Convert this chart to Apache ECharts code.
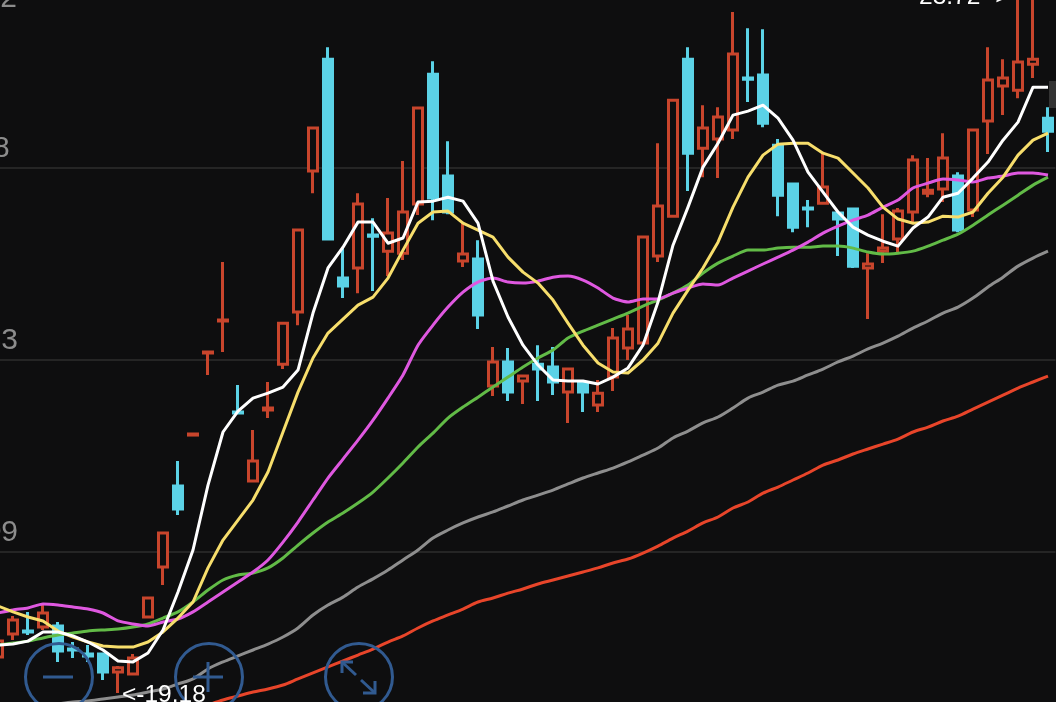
<!DOCTYPE html>
<html>
<head>
<meta charset="utf-8">
<style>
html, body { margin: 0; padding: 0; background: #0e0e0f; overflow: hidden; }
#chart { width: 1056px; height: 702px; }
</style>
<script src="https://cdn.jsdelivr.net/npm/echarts@6/dist/echarts.min.js"></script>
</head>
<body>
<div id="chart"></div>
<script>
// 日K 开盘 收盘 最低 最高
const opens = [19.409,19.560,19.579,19.605,19.612,19.461,19.429,19.429,19.311,19.298,19.671,19.998,20.528,20.861,21.397,21.607,21.012,20.560,21.025,21.325,21.666,22.588,23.320,21.888,21.954,22.169,22.064,22.051,22.372,23.222,22.555,21.999,22.012,21.182,21.339,21.214,21.325,21.306,21.142,21.201,21.057,21.240,21.430,21.463,22.032,22.293,23.320,22.738,22.797,22.856,23.196,23.216,22.757,22.503,22.346,22.378,22.313,22.339,21.954,22.064,22.143,22.320,22.443,22.470,22.555,22.333,22.915,23.144,23.117,23.287,22.934];
const closes = [19.513,19.651,19.573,19.697,19.448,19.455,19.416,19.311,19.338,19.403,19.795,20.220,20.377,20.868,21.404,21.613,21.005,20.691,21.038,21.593,22.202,22.869,22.143,21.836,22.372,22.162,22.182,22.320,23.000,22.411,22.320,22.045,21.646,21.339,21.142,21.247,21.293,21.208,21.293,21.142,21.135,21.496,21.554,22.156,22.359,23.052,22.705,22.869,22.941,23.353,23.189,22.901,22.430,22.221,22.339,22.483,22.274,21.966,21.980,22.084,22.326,22.660,22.463,22.673,22.202,22.856,23.183,23.196,23.301,23.320,22.849];
const lows = [19.390,19.520,19.553,19.586,19.377,19.403,19.377,19.259,19.173,19.292,19.671,19.880,20.338,20.861,21.254,21.404,20.998,20.560,20.972,21.293,21.580,22.443,22.143,21.757,21.789,21.803,21.901,22.006,22.300,22.267,22.306,21.960,21.554,21.116,21.084,21.064,21.084,21.123,20.940,21.012,21.012,21.149,21.352,21.463,21.993,22.293,22.457,22.548,22.542,22.797,23.039,22.875,22.293,22.188,22.221,22.372,22.032,21.954,21.620,21.986,22.058,22.247,22.417,22.385,22.188,22.287,22.699,22.954,23.065,23.196,22.712];
const highs = [19.547,19.677,19.704,19.749,19.638,19.507,19.487,19.435,19.351,19.429,19.795,20.220,20.691,20.868,21.404,21.993,21.188,20.894,21.208,21.593,22.202,22.869,23.398,22.084,22.443,22.280,22.411,22.653,23.000,23.307,22.783,22.254,22.136,21.437,21.430,21.254,21.449,21.437,21.293,21.214,21.221,21.561,21.646,22.156,22.770,23.052,23.398,23.019,23.006,23.628,23.523,23.516,22.797,22.503,22.398,22.705,22.313,22.346,22.051,22.306,22.346,22.692,22.673,22.836,22.581,22.856,23.398,23.320,23.720,23.710,23.006];

const ma5 = [19.487,19.494,19.513,19.573,19.573,19.547,19.507,19.455,19.383,19.377,19.435,19.586,19.834,20.109,20.534,20.881,21.018,21.103,21.135,21.175,21.286,21.659,21.954,22.090,22.254,22.254,22.116,22.150,22.385,22.391,22.417,22.391,22.247,21.868,21.633,21.449,21.319,21.221,21.214,21.214,21.195,21.240,21.300,21.449,21.731,22.103,22.352,22.614,22.770,22.954,22.980,23.019,22.934,22.790,22.581,22.450,22.320,22.221,22.169,22.129,22.097,22.215,22.287,22.417,22.443,22.542,22.647,22.790,22.908,23.137,23.137];
const ma10 = [19.743,19.704,19.671,19.645,19.579,19.540,19.507,19.481,19.474,19.474,19.507,19.573,19.664,19.769,19.992,20.174,20.305,20.436,20.619,20.881,21.142,21.365,21.528,21.620,21.711,21.763,21.888,22.071,22.247,22.320,22.326,22.247,22.202,22.156,22.025,21.927,21.855,21.744,21.593,21.449,21.332,21.273,21.267,21.352,21.462,21.659,21.809,21.954,22.123,22.352,22.548,22.692,22.764,22.770,22.770,22.705,22.673,22.575,22.477,22.352,22.274,22.247,22.254,22.293,22.287,22.320,22.443,22.548,22.692,22.790,22.836];
const ma20 = [19.697,19.717,19.730,19.756,19.749,19.736,19.723,19.697,19.645,19.625,19.612,19.638,19.658,19.704,19.769,19.834,19.900,19.965,20.044,20.161,20.292,20.436,20.580,20.704,20.828,20.959,21.103,21.254,21.449,21.580,21.698,21.796,21.862,21.888,21.862,21.855,21.868,21.894,21.901,21.875,21.823,21.757,21.731,21.751,21.751,21.789,21.823,21.849,21.842,21.888,21.934,21.980,22.025,22.071,22.123,22.182,22.228,22.267,22.300,22.352,22.398,22.477,22.509,22.536,22.529,22.516,22.542,22.555,22.575,22.575,22.562];
const ma30 = [19.487,19.500,19.513,19.534,19.553,19.566,19.579,19.586,19.592,19.605,19.625,19.664,19.704,19.769,19.847,19.913,19.946,19.959,19.992,20.057,20.141,20.220,20.292,20.351,20.416,20.488,20.580,20.678,20.783,20.874,20.972,21.044,21.109,21.175,21.240,21.306,21.365,21.417,21.496,21.541,21.580,21.620,21.659,21.705,21.744,21.789,21.842,21.921,21.986,22.032,22.071,22.071,22.084,22.090,22.090,22.097,22.097,22.084,22.058,22.045,22.051,22.064,22.097,22.136,22.175,22.234,22.300,22.365,22.430,22.496,22.548];
const ma60 = [null,null,null,null,19.102,19.115,19.122,19.135,19.147,19.160,19.180,19.200,19.233,19.266,19.331,19.377,19.416,19.455,19.494,19.540,19.599,19.684,19.749,19.801,19.867,19.920,19.978,20.044,20.109,20.187,20.240,20.286,20.325,20.358,20.397,20.436,20.468,20.501,20.541,20.580,20.613,20.645,20.685,20.730,20.776,20.842,20.887,20.940,20.979,21.038,21.103,21.142,21.188,21.214,21.254,21.293,21.339,21.378,21.424,21.463,21.508,21.561,21.607,21.659,21.698,21.757,21.829,21.894,21.966,22.019,22.064];
const ma120 = [null,null,null,null,null,null,null,null,null,null,null,null,null,null,19.095,19.128,19.154,19.180,19.200,19.226,19.266,19.305,19.344,19.383,19.422,19.461,19.507,19.547,19.599,19.645,19.684,19.723,19.769,19.795,19.827,19.854,19.887,19.913,19.939,19.965,19.992,20.024,20.050,20.089,20.135,20.187,20.233,20.286,20.325,20.384,20.423,20.481,20.521,20.567,20.613,20.665,20.698,20.737,20.770,20.802,20.835,20.881,20.913,20.953,20.985,21.031,21.077,21.122,21.168,21.208,21.247];

const tickLabels = ["", "20.09", "21.33", "22.58 "];
const topTickLabel = "23.82";
const lowLabel = "<-19.18";
const highLabel = "23.72 ->";

const bg = "#0e0e0f";
const red = "#c8452c";
const cyan = "#5bd2e6";
const btn = "#315a90";

const categories = opens.map((v, i) => i + 1);
const candles = opens.map((v, i) => [v, closes[i], lows[i], highs[i]]);

function maLine(name, data, color, smooth) {
  return {
    name: name,
    type: "line",
    data: data,
    symbol: "none",
    smooth: smooth,
    silent: true,
    z: 3,
    lineStyle: { color: color, width: 3, join: "round" },
  };
}

const stroke = { stroke: btn, lineWidth: 3, fill: "none" };
function seg(points) {
  return { type: "polyline", shape: { points: points }, style: stroke, silent: true, z: 20 };
}
function ring(cx) {
  return { type: "circle", shape: { cx: cx, cy: 677, r: 33.5 }, style: stroke, silent: true, z: 20 };
}

const option = {
  backgroundColor: bg,
  animation: false,
  grid: { left: -9.5, right: 0.5, top: -24, bottom: -42, containLabel: false, outerBoundsMode: "none" },
  xAxis: {
    type: "category",
    data: categories,
    boundaryGap: true,
    show: false,
  },
  yAxis: {
    type: "value",
    min: 18.84,
    max: 23.864,
    interval: 1.256,
    axisLine: { show: false },
    axisTick: { show: false },
    splitLine: { show: true, lineStyle: { color: "#252525", width: 2 } },
    axisLabel: {
      show: true,
      color: "#8c8c8c",
      fontSize: 30,
      fontFamily: "Liberation Sans",
      align: "right",
      verticalAlign: "bottom",
      margin: -27.5,
      padding: [0, 0, 4, 0],
      formatter: function (value, index) {
        return tickLabels[index] || "";
      },
    },
  },
  series: [
    {
      name: "K",
      type: "candlestick",
      data: candles,
      barWidth: 9,
      silent: true,
      z: 2,
      itemStyle: {
        color: bg,
        color0: cyan,
        borderColor: red,
        borderColor0: cyan,
        borderWidth: 3,
      },
    },
    maLine("MA120", ma120, "#e8452a", 0.3),
    maLine("MA60", ma60, "#8e8e8e", 0.3),
    maLine("MA30", ma30, "#62bb47", 0.2),
    maLine("MA20", ma20, "#df58e0", 0.2),
    maLine("MA10", ma10, "#f7de6c", false),
    maLine("MA5", ma5, "#ffffff", false),
  ],
  graphic: [
    // 缩小 放大 全屏 三个按钮
    ring(59),
    seg([[43, 677], [73, 677]]),
    ring(209),
    seg([[193, 677], [223, 677]]),
    seg([[208, 662], [208, 692]]),
    ring(359),
    seg([[342, 673], [342, 662], [353, 662]]),
    seg([[342, 662], [356, 675]]),
    seg([[363, 693], [375, 693], [375, 681]]),
    seg([[375, 693], [361, 680]]),
    // 最新价标记
    { type: "rect", shape: { x: 1049, y: 81, width: 7, height: 27 }, style: { fill: "#333333" }, silent: true, z: 20 },
    // 最低 最高
    {
      type: "text", x: 122, y: 683, silent: true, z: 21,
      style: { text: lowLabel, fill: "#ffffff", font: "24.5px 'Liberation Sans'", textVerticalAlign: "top" },
    },
    {
      type: "text", x: 919, y: -15, silent: true, z: 21,
      style: { text: highLabel, fill: "#ffffff", font: "24.5px 'Liberation Sans'", textVerticalAlign: "top" },
    },
    // 顶部刻度,画布外只露出末位
    {
      type: "text", x: 17, y: 14, silent: true, z: 21,
      style: { text: topTickLabel, fill: "#8c8c8c", font: "30px 'Liberation Sans'", textAlign: "right", textVerticalAlign: "bottom" },
    },
  ],
};

let myChart = echarts.init(document.getElementById("chart"));
myChart.setOption(option);
</script>
</body>
</html>
